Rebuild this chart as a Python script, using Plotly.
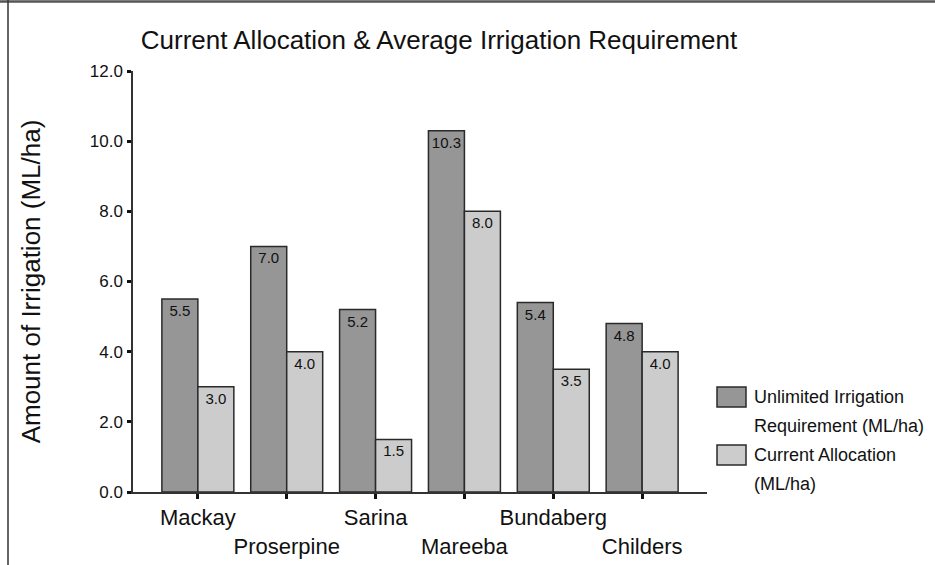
import plotly.graph_objects as go

# Chart data
CATEGORIES = ["Mackay", "Proserpine", "Sarina", "Mareeba", "Bundaberg", "Childers"]
UNLIMITED = [5.5, 7.0, 5.2, 10.3, 5.4, 4.8]
ALLOCATION = [3.0, 4.0, 1.5, 8.0, 3.5, 4.0]
SERIES_NAMES = ["Unlimited Irrigation\nRequirement (ML/ha)", "Current Allocation\n(ML/ha)"]
Y_TICKS = [0, 2, 4, 6, 8, 10, 12]

COLORS = {
    'dark': '#969696',
    'light': '#cccccc',
    'edge': '#2a2a2a',
    'text': '#111111',
}
FONT = "Liberation Sans, Arial, sans-serif"

# plot area in pixels
W, H = 935, 565
L, R, T, B = 133, 707, 71, 492


def px_x(v):
    return (v - L) / (R - L)


def px_y(v):
    return (B - v) / (B - T)


fig = go.Figure()
for vals, name, color in [(UNLIMITED, SERIES_NAMES[0], COLORS['dark']),
                          (ALLOCATION, SERIES_NAMES[1], COLORS['light'])]:
    fig.add_trace(go.Bar(
        x=list(range(len(CATEGORIES))),
        y=vals,
        name=name.replace("\n", " "),
        marker=dict(color=color, line=dict(color=COLORS['edge'], width=1.5)),
        text=[f"{v:.1f}" for v in vals],
        textposition='inside',
        insidetextanchor='end',
        constraintext='none',
        textfont=dict(size=15, color=COLORS['text'], family=FONT),
        showlegend=False,
    ))

# alternate tick labels on two rows
ticktext = [c if i % 2 == 0 else "<br>" + c for i, c in enumerate(CATEGORIES)]

fig.update_layout(
    width=W, height=H,
    barmode='group',
    bargap=0.19,
    bargroupgap=0,
    plot_bgcolor='white',
    paper_bgcolor='white',
    font=dict(family=FONT, color=COLORS['text']),
    margin=dict(l=L, r=W - R, t=T, b=H - B, autoexpand=False),
    xaxis=dict(
        range=[-0.73, len(CATEGORIES) - 1 + 0.73],
        tickvals=list(range(len(CATEGORIES))),
        ticktext=ticktext,
        tickangle=0,
        ticks='outside', ticklen=5, tickwidth=2.5, tickcolor='#111',
        showline=True, linecolor='#333', linewidth=1.5,
        showgrid=False, zeroline=False,
        tickfont=dict(size=22, family=FONT, color='#111'),
    ),
    yaxis=dict(
        range=[0, 12],
        tickvals=Y_TICKS,
        tickformat='.1f',
        ticks='outside', ticklen=4, tickwidth=3, tickcolor='#111',
        ticklabelstandoff=1,
        showline=True, linecolor='#333', linewidth=1.5,
        showgrid=False, zeroline=False,
        tickfont=dict(size=17, family=FONT, color='#111'),
        title=dict(text="Amount of Irrigation (ML/ha)", font=dict(size=26, family=FONT, color='#111'), standoff=42),
    ),
    title=dict(
        text="Current Allocation & Average Irrigation Requirement",
        x=439 / W, xanchor='center', xref='container',
        y=1 - 40 / H, yanchor='middle', yref='container',
        font=dict(size=26, family=FONT, color='#111'),
    ),
)

# frame lines along the top and left edge
fig.add_shape(type='line', xref='paper', yref='paper',
              x0=px_x(0), x1=px_x(W), y0=px_y(1.5), y1=px_y(1.5),
              line=dict(color='#555', width=2.5))
fig.add_shape(type='line', xref='paper', yref='paper',
              x0=px_x(8), x1=px_x(8), y0=px_y(0), y1=px_y(H),
              line=dict(color='#333', width=1.5))

# hand-drawn legend
legend_rows = [(397, COLORS['dark']), (455, COLORS['light'])]
for (mid, color), name in zip(legend_rows, SERIES_NAMES):
    fig.add_shape(type='rect', xref='paper', yref='paper',
                  x0=px_x(717), x1=px_x(746), y0=px_y(mid - 10), y1=px_y(mid + 10),
                  fillcolor=color, line=dict(color=COLORS['edge'], width=1.5))
    for j, line in enumerate(name.split("\n")):
        fig.add_annotation(
            text=line, xref='paper', yref='paper',
            x=px_x(752), y=px_y(mid + j * 29),
            xanchor='left', yanchor='middle', showarrow=False,
            font=dict(size=18, family=FONT, color='#111'),
        )

# drop the default page margin so the figure sits at the window's corner
fig.write_html("out.html", config={'displayModeBar': False},
               post_script="document.body.style.margin='0';")
